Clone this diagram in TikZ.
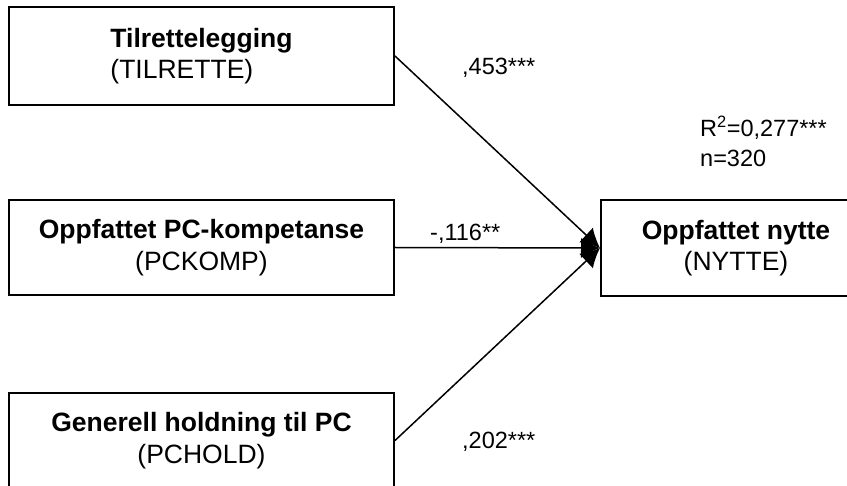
\documentclass[tikz,border=0pt]{standalone}
\usepackage{fontspec}
\setmainfont{Liberation Sans}
\usetikzlibrary{arrows.meta}
\begin{document}
\begin{tikzpicture}[x=1pt,y=-1pt,
  box/.style={draw,line width=2pt,rectangle,inner sep=0pt,
    font=\fontsize{26.5}{31.5}\selectfont},
  lbl/.style={anchor=base west,inner sep=0pt,font=\fontsize{23.5}{28}\selectfont},
  conn/.style={line width=1.5pt,-{Latex[length=19pt,width=20pt]}}]
\useasboundingbox (0,0) rectangle (847,486);
\fill[white] (0,0) rectangle (847,486);
\clip (0,0) rectangle (847,486);
\node[box,minimum width=385pt,minimum height=98pt,align=left] (tilr) at (201.5,56)
  {\textbf{Tilrettelegging}\\(TILRETTE)};
\node[box,minimum width=385pt,minimum height=95pt,align=center] (pckomp) at (201.5,247.5)
  {\textbf{Oppfattet PC-kompetanse}\\(PCKOMP)};
\node[box,minimum width=385pt,minimum height=95pt,align=center] (pchold) at (201.5,440.5)
  {\textbf{Generell holdning til PC}\\(PCHOLD)};
\node[box,minimum width=270pt,minimum height=96pt,align=center] (nytte) at (736,248)
  {\textbf{Oppfattet nytte}\\(NYTTE)};
\draw[conn] (tilr.east) -- (nytte.west);
\draw[conn] (pckomp.east) -- (nytte.west);
\draw[conn] (pchold.east) -- (nytte.west);
\node[lbl] (b1) at (462,75) {,453***};
\node[lbl] (b2) at (430,241) {-,116**};
\node[lbl] (b3) at (462,449) {,202***};
\node[lbl] (r2) at (700,137) {R\textsuperscript{2}=0,277***};
\node[lbl] (nn) at (700,167) {n=320};
\end{tikzpicture}
\end{document}
